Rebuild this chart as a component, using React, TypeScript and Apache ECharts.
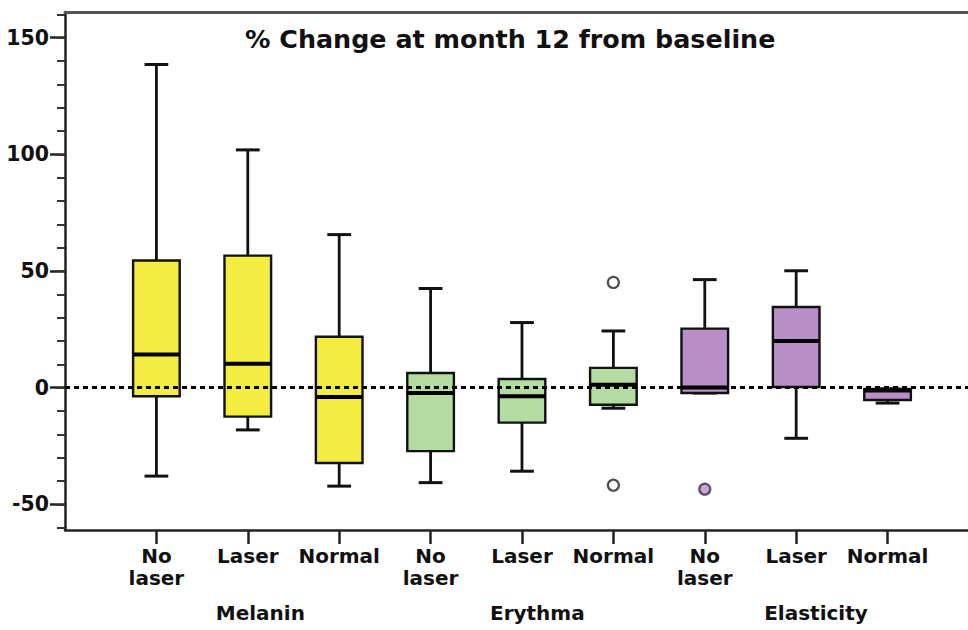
import React, { useEffect, useRef } from "react";
import * as echarts from "echarts";

const categories = ["No\nlaser", "Laser", "Normal", "No\nlaser", "Laser", "Normal", "No\nlaser", "Laser", "Normal"];
const groups = ["Melanin", "Erythma", "Elasticity"];
const groupOfCategory = [0, 0, 0, 1, 1, 1, 2, 2, 2];
const groupColors = ["#F3EC41", "#B4DCA2", "#B98FC8"];

const whiskerHigh = [138.5, 101.9, 65.6, 42.5, 27.9, 24.3, 46.3, 50.1, -0.5];
const q3 = [54.5, 56.6, 21.8, 6.3, 3.7, 8.5, 25.3, 34.6, -0.5];
const median = [14.2, 10.2, -4.0, -2.3, -3.7, 1.3, 0.1, 20.0, -1.2];
const q1 = [-3.7, -12.4, -32.3, -27.2, -15.0, -7.3, -2.3, 0.3, -5.3];
const whiskerLow = [-37.9, -18.1, -42.2, -40.7, -35.8, -8.8, -2.3, -21.7, -6.6];

const outlierCategory = [6, 6, 7];
const outlierValue = [45.1, -41.8, -43.5];
const outlierFilled = [false, false, true];

const yMajorTicks = [-50, 0, 50, 100, 150];
const yMinorTicks = [-60, -50, -40, -30, -20, -10, 0, 10, 20, 30, 40, 50, 60, 70, 80, 90, 100, 110, 120, 130, 140, 150, 160];
const xPositions = [1, 2, 3, 4, 5, 6, 7, 8, 9];

const titleText = "% Change at month 12 from baseline";
const FONT = "DejaVu Sans";

export default function App() {
  const ref = useRef<HTMLDivElement>(null);
  useEffect(() => {
    if (!ref.current) return;
    const chart = echarts.init(ref.current, null, { renderer: "svg" });
    const boxData = categories.map((_, i) => [
      i + 1,
      whiskerLow[i],
      q1[i],
      median[i],
      q3[i],
      whiskerHigh[i],
      groupOfCategory[i],
    ]);
    const outlierData = outlierCategory.map((c, i) => ({
      value: [c, outlierValue[i]],
      itemStyle: {
        color: outlierFilled[i] ? groupColors[groupOfCategory[c - 1]] : "#ffffff",
        borderColor: outlierFilled[i] ? "#3a2a45" : "#222",
        borderWidth: 2.2,
      },
    }));
    const option: any = {
      animation: false,
      backgroundColor: "#ffffff",
      title: {
        text: titleText,
        left: 245,
        top: 24,
        padding: 0,
        textStyle: { fontFamily: FONT, fontWeight: "bold", fontSize: 25.4, lineHeight: 30, color: "#111" },
      },
      grid: { left: 65, right: 0, top: 12, bottom: 100 },
      xAxis: [
        {
          type: "value",
          min: 0,
          max: 9.88,
          position: "bottom",
          splitLine: { show: false },
          axisLine: { onZero: false, lineStyle: { color: "#222", width: 2.5 } },
          axisTick: { show: true, customValues: xPositions, length: 14, lineStyle: { color: "#222", width: 2.5 } },
          axisLabel: {
            customValues: xPositions,
            formatter: (v: number) => categories[Math.round(v) - 1] ?? "",
            fontFamily: FONT,
            fontWeight: "bold",
            fontSize: 20,
            lineHeight: 22,
            color: "#111",
            margin: 15,
          },
        },
        {
          type: "value",
          min: 0,
          max: 9.88,
          position: "top",
          splitLine: { show: false },
          axisLine: { onZero: false, lineStyle: { color: "#555", width: 3 } },
          axisTick: { show: false },
          axisLabel: { show: false },
        },
      ],
      yAxis: [
        {
          type: "value",
          min: -61,
          max: 161,
          position: "left",
          splitLine: { show: false },
          axisLine: { onZero: false, lineStyle: { color: "#222", width: 2.5 } },
          axisTick: { show: true, customValues: yMajorTicks, length: 15, lineStyle: { color: "#222", width: 2.5 } },
          axisLabel: {
            customValues: yMajorTicks,
            fontFamily: FONT,
            fontWeight: "bold",
            fontSize: 20.5,
            color: "#111",
            margin: 16,
          },
        },
        {
          type: "value",
          min: -61,
          max: 161,
          position: "left",
          splitLine: { show: false },
          axisLine: { show: false, onZero: false },
          axisTick: { show: true, customValues: yMinorTicks, length: 8, lineStyle: { color: "#333", width: 2 } },
          axisLabel: { show: false },
        },
      ],
      series: [
        {
          type: "custom",
          xAxisIndex: 0,
          yAxisIndex: 0,
          data: boxData,
          z: 2,
          renderItem: (params: any, api: any) => {
            const x = api.value(0);
            const lo = api.coord([x, api.value(1)]);
            const b1 = api.coord([x, api.value(2)]);
            const md = api.coord([x, api.value(3)]);
            const b3 = api.coord([x, api.value(4)]);
            const hi = api.coord([x, api.value(5)]);
            const band = api.size([1, 0])[0];
            const bw = band * 0.51;
            const cw = band * 0.26;
            const color = groupColors[api.value(6)];
            const cx = lo[0];
            const ls = { stroke: "#111", lineWidth: 2.8 };
            return {
              type: "group",
              children: [
                { type: "line", shape: { x1: cx, y1: hi[1], x2: cx, y2: b3[1] }, style: ls },
                { type: "line", shape: { x1: cx, y1: b1[1], x2: cx, y2: lo[1] }, style: ls },
                { type: "line", shape: { x1: cx - cw / 2, y1: hi[1], x2: cx + cw / 2, y2: hi[1] }, style: { stroke: "#111", lineWidth: 3 } },
                { type: "line", shape: { x1: cx - cw / 2, y1: lo[1], x2: cx + cw / 2, y2: lo[1] }, style: { stroke: "#111", lineWidth: 3 } },
                {
                  type: "rect",
                  shape: { x: cx - bw / 2, y: b3[1], width: bw, height: b1[1] - b3[1] },
                  style: { fill: color, stroke: "#111", lineWidth: 2.4 },
                },
                { type: "line", shape: { x1: cx - bw / 2, y1: md[1], x2: cx + bw / 2, y2: md[1] }, style: { stroke: "#000", lineWidth: 4 } },
              ],
            };
          },
          markLine: {
            silent: true,
            symbol: "none",
            z: 10,
            label: { show: false },
            lineStyle: { color: "#000", type: [5, 4], width: 3 },
            data: [{ yAxis: 0 }],
          },
        },
        {
          type: "scatter",
          xAxisIndex: 0,
          yAxisIndex: 0,
          symbol: "circle",
          symbolSize: 11,
          z: 5,
          data: outlierData,
        },
      ],
    };
    chart.setOption(option);
    const groupLabels = groups.map((g, gi) => {
      const px = chart.convertToPixel({ xAxisIndex: 0 }, gi * 3 + 2) as number;
      return {
        type: "text",
        x: px - 32,
        y: 613,
        style: {
          text: g,
          font: `bold 20px "${FONT}"`,
          fill: "#111",
          textAlign: "left",
          textVerticalAlign: "middle",
        },
      };
    });
    chart.setOption({ graphic: groupLabels });
    return () => chart.dispose();
  }, []);
  return <div ref={ref} style={{ position: "absolute", left: 0, top: 0, width: 968, height: 630 }} />;
}
